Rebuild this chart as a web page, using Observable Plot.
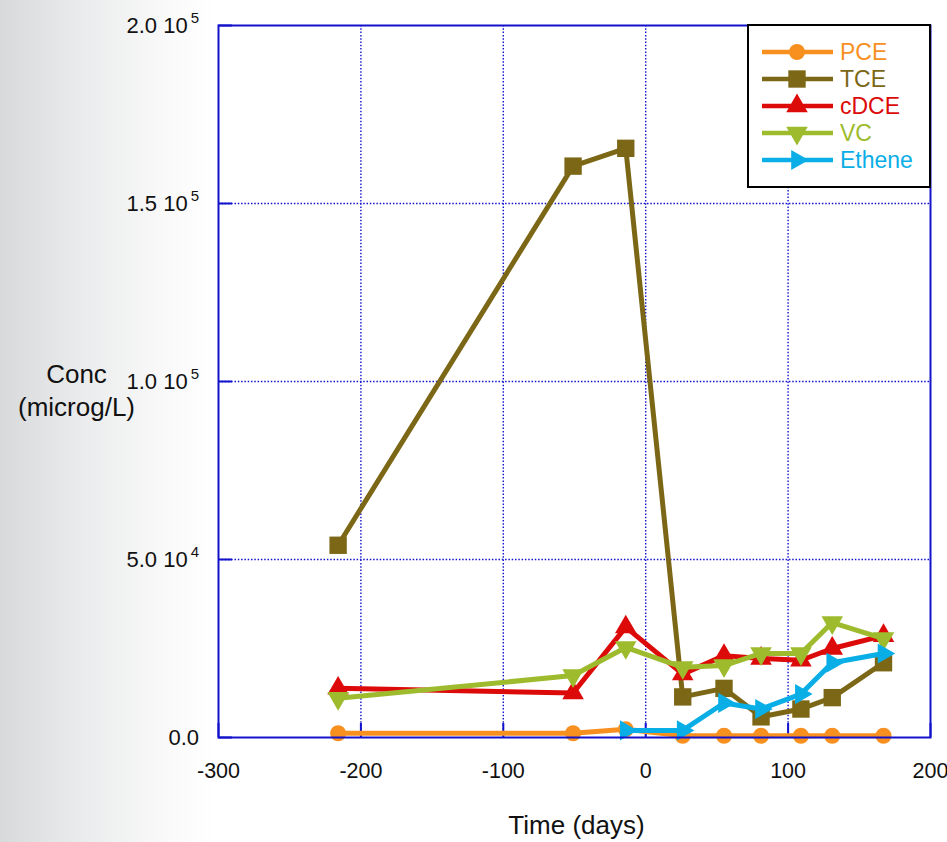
<!DOCTYPE html>
<html>
<head>
<meta charset="utf-8">
<script src="https://cdn.jsdelivr.net/npm/d3@7"></script>
<script src="https://cdn.jsdelivr.net/npm/@observablehq/plot@0.6"></script>
<style>
  html, body { margin: 0; padding: 0; }
  body {
    width: 947px; height: 842px; overflow: hidden;
    background: linear-gradient(to right, #d8d9db 0px, #eaebec 80px, #fafafa 170px, #ffffff 215px);
    font-family: "Liberation Sans", Arial, Helvetica, sans-serif;
  }
  svg { display: block; }
</style>
</head>
<body>
<script>
// Sampling times (days relative to treatment start)
const days = [-216, -51, -14, 26, 55, 81, 109, 131, 167];

// Concentrations (microg/L) per compound
const pce    = [1200, 1200, 2300, 500, 500, 500, 500, 500, 500];
const tce    = [54000, 160500, 165500, 11400, 13800, 5800, 8000, 11200, 21000];
const cdce   = [13800, 12500, 31000, 17800, 23000, 22200, 21700, 25000, 28600];
const vc     = [11000, 17400, 25300, 19700, 20200, 23600, 23600, 32300, 27800];
const ethene = [null, null, 2000, 2000, 9700, 8000, 12200, 21000, 23600];

const seriesNames  = ["PCE", "TCE", "cDCE", "VC", "Ethene"];
const seriesValues = [pce, tce, cdce, vc, ethene];
const seriesColors = ["#f7901e", "#7c6716", "#dd0a0a", "#9dbb2d", "#0aaee6"];

// Axis ticks and labels
const xTicks = [-300, -200, -100, 0, 100, 200];
const xGrid  = [-200, -100, 0, 100];
const yTicks = [0, 50000, 100000, 150000, 200000];
const yGrid  = [50000, 100000, 150000];
const yMantissa = ["0.0", "5.0 10", "1.0 10", "1.5 10", "2.0 10"];
const yExponent = ["", "4", "5", "5", "5"];

// Marker shapes: down- and right-pointing triangles drawn as d3 symbol types
function triSide(size) { return Math.sqrt(4 * size / Math.sqrt(3)); }
const triangleDown = {
  draw(ctx, size) {
    const a = triSide(size), h = a * Math.sqrt(3) / 2;
    ctx.moveTo(-a / 2, -h / 3); ctx.lineTo(a / 2, -h / 3); ctx.lineTo(0, 2 * h / 3); ctx.closePath();
  }
};
const triangleRight = {
  draw(ctx, size) {
    const a = triSide(size), h = a * Math.sqrt(3) / 2;
    ctx.moveTo(-h / 3, -a / 2); ctx.lineTo(2 * h / 3, 0); ctx.lineTo(-h / 3, a / 2); ctx.closePath();
  }
};
const seriesSymbols = [d3.symbolCircle, d3.symbolSquare, d3.symbolTriangle, triangleDown, triangleRight];
const seriesRadius  = [8, 9.8, 8, 8, 7.5];

// Long table built from the arrays above
const rows = [];
seriesNames.forEach((name, s) => {
  seriesValues[s].forEach((v, i) => {
    if (v != null) rows.push({series: name, s, day: days[i], conc: v});
  });
});

const blue = "#1212cc";
const ink = "#111";

const seriesMarks = seriesNames.flatMap((name, s) => {
  const data = rows.filter(d => d.s === s);
  return [
    Plot.line(data, {x: "day", y: "conc", stroke: seriesColors[s], strokeWidth: 5, strokeLinejoin: "miter"}),
    Plot.dot(data, {x: "day", y: "conc", fill: seriesColors[s], stroke: "none", symbol: seriesSymbols[s], r: seriesRadius[s]})
  ];
});

const chart = Plot.plot({
  width: 947,
  height: 842,
  marginLeft: 218,
  marginRight: 17,
  marginTop: 25,
  marginBottom: 105,
  style: {background: "transparent", fontFamily: "Liberation Sans, Arial, Helvetica, sans-serif", color: ink},
  x: {domain: [-300, 200]},
  y: {domain: [0, 200000]},
  marks: [
    Plot.frame({fill: "white"}),
    Plot.gridX(xGrid, {stroke: blue, strokeOpacity: 1, strokeWidth: 1.4, strokeDasharray: "1.5,1.8"}),
    Plot.gridY(yGrid, {stroke: blue, strokeOpacity: 1, strokeWidth: 1.4, strokeDasharray: "1.5,1.8"}),
    // inward tick marks
    Plot.axisX({ticks: xTicks, tickSize: -14, stroke: blue, strokeWidth: 2, tickFormat: () => "", label: null}),
    Plot.axisY({ticks: yTicks, tickSize: -14, stroke: blue, strokeWidth: 2, tickFormat: () => "", label: null}),
    // x tick labels
    Plot.text(xTicks, {x: d => d, frameAnchor: "bottom", dy: 40, text: d => String(d), fontSize: 21.5, fill: ink}),
    // axis titles
    Plot.text(["Conc\n(microg/L)"], {frameAnchor: "left", textAnchor: "middle", dx: -142, dy: 7, text: d => d,
      fontSize: 26, lineHeight: 1.28, fill: ink}),
    Plot.text(["Time (days)"], {frameAnchor: "bottom", dx: 2, dy: 96, text: d => d, fontSize: 26, fill: ink}),
    ...seriesMarks,
    Plot.frame({stroke: blue, strokeWidth: 2})
  ]
});

document.body.appendChild(chart);

const svg = d3.select(chart);

// y tick labels in "m.m 10^e" form, placed with the plot's own y scale
const yScale = chart.scale("y");
const xScale = chart.scale("x");
const yLab = svg.append("g").attr("font-size", 22).attr("fill", ink).attr("text-anchor", "end");
yTicks.forEach((v, i) => {
  const t = yLab.append("text")
    .attr("x", xScale.apply(-300) - 19)
    .attr("y", yScale.apply(v))
    .attr("dy", "0.36em");
  t.append("tspan").text(yMantissa[i]);
  if (yExponent[i]) {
    t.append("tspan").attr("dx", 3).attr("dy", -10).attr("font-size", 15).text(yExponent[i]);
  }
});

// Legend box in the upper-right corner of the plot frame
const lg = svg.append("g").attr("transform", "translate(748,25)");
lg.append("rect").attr("width", 182).attr("height", 162)
  .attr("fill", "white").attr("stroke", "#000").attr("stroke-width", 2);
seriesNames.forEach((name, s) => {
  const y = 27 + 27 * s;
  const g = lg.append("g").attr("transform", `translate(0,${y})`);
  g.append("line").attr("x1", 14).attr("x2", 85).attr("y1", 0).attr("y2", 0)
    .attr("stroke", seriesColors[s]).attr("stroke-width", 4.5);
  g.append("path").attr("transform", "translate(49,0)")
    .attr("d", d3.symbol().type(seriesSymbols[s]).size(Math.PI * seriesRadius[s] ** 2)())
    .attr("fill", seriesColors[s]);
  g.append("text").attr("x", 92).attr("dy", "0.36em").attr("text-anchor", "start")
    .attr("font-size", 23).attr("fill", seriesColors[s]).text(name);
});
</script>
</body>
</html>
